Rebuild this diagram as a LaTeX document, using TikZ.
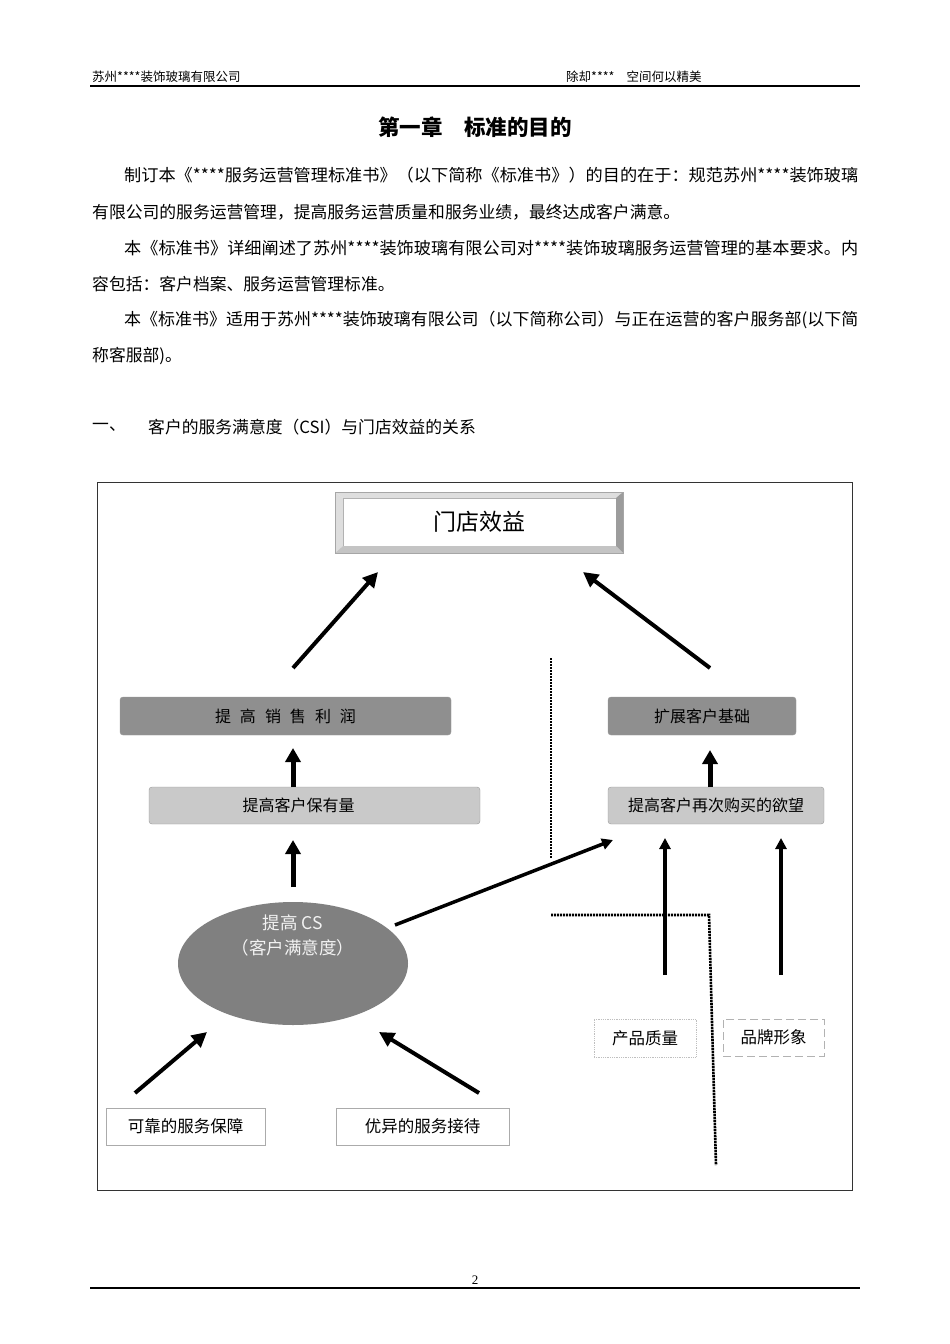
\documentclass[tikz,border=0pt]{standalone}
\usepackage{fontspec}
\setmainfont{Noto Sans CJK SC}
\newfontfamily\numfont{Liberation Serif}
\usepackage{xcolor}
\usepackage{graphicx}
\usepackage{tikz}
\usetikzlibrary{positioning,arrows.meta,shapes.geometric}

\definecolor{boxdark}{HTML}{8F8F8F}
\definecolor{boxlight}{HTML}{C9C9C9}
\definecolor{csgray}{HTML}{808080}
\definecolor{edgegray}{HTML}{ABABAB}
\definecolor{bevlight}{HTML}{DEDEDE}
\definecolor{bevmid}{HTML}{C4C4C4}
\definecolor{bevdark}{HTML}{9C9C9C}

\newcommand{\fs}[1]{\fontsize{#1}{#1}\selectfont}
\newcommand{\fullline}[1]{\resizebox{734pt}{\height}{#1}}
\newcommand{\gap}{\hspace{9pt}}

\begin{document}
\begin{tikzpicture}[x=1pt, y=-1pt, every node/.style={inner sep=0pt},
	textline/.style={anchor=west, font=\fs{16.8}},
	headtext/.style={anchor=west, font=\fs{12.5}},
	darkbox/.style={draw=gray!80, fill=boxdark, rounded corners=3pt, minimum height=38pt, font=\fs{16}},
	lightbox/.style={draw=gray!80, fill=boxlight, rounded corners=3pt, minimum height=37pt, font=\fs{16}},
	plainbox/.style={draw=edgegray, minimum height=37pt, font=\fs{16.5}},
	bigarrow/.style={line width=4pt, -{Triangle[length=15pt,width=15pt]}},
	uparrow/.style={line width=5pt, -{Triangle[length=14pt,width=15pt]}},
	thinarrow/.style={line width=3.5pt, -{Triangle[length=11pt,width=11pt]}},
	divider/.style={line width=2.6pt, dash pattern=on 2.2pt off 0.8pt}]
		\useasboundingbox[fill=white] (0,0) rectangle (950,1344);

		\node[headtext] (hl) at (92,77) {苏州****装饰玻璃有限公司};
		\node[headtext] (hr) at (566,77) {除却****\hspace{12pt}空间何以精美};
		\draw[line width=1.8pt] (90,86) -- (860,86);

		\node[font=\fs{21.5}\bfseries] (title) at (475,127) {第一章\hspace{22pt}标准的目的};

		\node[textline] (p1) at (124,175) {\fullline{制订本《****服务运营管理标准书》（以下简称《标准书》）的目的在于：规范苏州****装饰玻璃}};
		\node[textline] (p2) at (92,212) {有限公司的服务运营管理，提高服务运营质量和服务业绩，最终达成客户满意。};
		\node[textline] (p3) at (124,248) {\fullline{本《标准书》详细阐述了苏州****装饰玻璃有限公司对****装饰玻璃服务运营管理的基本要求。内}};
		\node[textline] (p4) at (92,284) {容包括：客户档案、服务运营管理标准。};
		\node[textline] (p5) at (124,320) {\fullline{本《标准书》适用于苏州****装饰玻璃有限公司（以下简称公司）与正在运营的客户服务部(以下简}};
		\node[textline] (p6) at (92,356) {称客服部)。};

		\node[textline] (sec) at (92,427) {一、};
		\node[textline] (sectxt) at (148,427) {客户的服务满意度（CSI）与门店效益的关系};

		\draw[line width=0.8pt, draw=black!80] (97,482) rectangle (852,1190);

		\node[draw=gray!60, fill=white, minimum width=273pt, minimum height=48pt, font=\fs{23}] (dian) at (479.5,522) {门店效益};
		\fill[bevlight] (335,492) -- (623,492) -- (dian.north east) -- (dian.north west) -- cycle;
		\fill[bevlight] (335,492) -- (dian.north west) -- (dian.south west) -- (335,553) -- cycle;
		\fill[bevdark] (623,492) -- (623,553) -- (dian.south east) -- (dian.north east) -- cycle;
		\fill[bevmid] (335,553) -- (dian.south west) -- (dian.south east) -- (623,553) -- cycle;
		\draw[gray!70, line width=0.6pt] (335,492) rectangle (623,553);

		\node[darkbox, minimum width=331pt] (xiao) at (285.5,716) {提\gap 高\gap 销\gap 售\gap 利\gap 润};
		\node[darkbox, minimum width=188pt] (kuo) at (702,716) {扩展客户基础};
		\node[lightbox, minimum width=331pt] (bao) at (314.5,805.5) {提高客户保有量\hspace*{32pt}};
		\node[lightbox, minimum width=216pt] (zai) at (716,805.5) {提高客户再次购买的欲望};

		\node[ellipse, fill=csgray, minimum width=230pt, minimum height=123pt] (cs) at (293,963.5) {};
		\node[text=white!95!black, align=center, font=\fontsize{17.5}{25}\selectfont] (cstxt) at (293,935) {提高 CS\\（客户满意度）};

		\node[plainbox, draw=gray!50, densely dotted, line width=0.8pt, minimum width=102pt, minimum height=38pt] (chan) at (645,1038) {产品质量};
		\node[plainbox, draw=gray!60, dash pattern=on 8pt off 4pt, line width=0.8pt, minimum width=101pt] (pin) at (773.5,1037.5) {品牌形象};
		\node[plainbox, minimum width=159pt] (kao) at (185.5,1126.5) {可靠的服务保障};
		\node[plainbox, minimum width=173pt] (you) at (422.5,1126.5) {优异的服务接待};

		\coordinate (xa) at (293,668);
		\coordinate (xb) at (378,572);
		\coordinate (ka) at (710,668);
		\coordinate (kb) at (583,572);
		\coordinate (ba) at (293,787);
		\coordinate (bb) at (293,748);
		\coordinate (za) at (710,787);
		\coordinate (zb) at (710,750);
		\coordinate (ca) at (293,887);
		\coordinate (cb) at (293,840);
		\coordinate (cr) at (395,925);
		\coordinate (zc) at (613,840);
		\coordinate (qa) at (665,975);
		\coordinate (qb) at (665,838);
		\coordinate (pa) at (781,975);
		\coordinate (pb) at (781,838);
		\coordinate (ra) at (135,1093);
		\coordinate (rb) at (207,1032);
		\coordinate (ya) at (479,1093);
		\coordinate (yb) at (379,1032);

		\draw[bigarrow] (xa) -- (xb);
		\draw[bigarrow] (ka) -- (kb);
		\draw[uparrow] (ba) -- (bb);
		\draw[uparrow] (za) -- (zb);
		\draw[uparrow] (ca) -- (cb);
		\draw[thinarrow] (cr) -- (zc);
		\draw[thinarrow] (qa) -- (qb);
		\draw[thinarrow] (pa) -- (pb);
		\draw[bigarrow] (ra) -- (rb);
		\draw[bigarrow] (ya) -- (yb);

		\draw[divider] (551,658) -- (551,858);
		\draw[divider] (551,915) -- (709,915) -- (716,1165);

		\node[font=\numfont\fs{13}] (page) at (475,1280) {2};
		\draw[line width=1.8pt] (90,1288) -- (860,1288);
	\end{tikzpicture}
\end{document}
